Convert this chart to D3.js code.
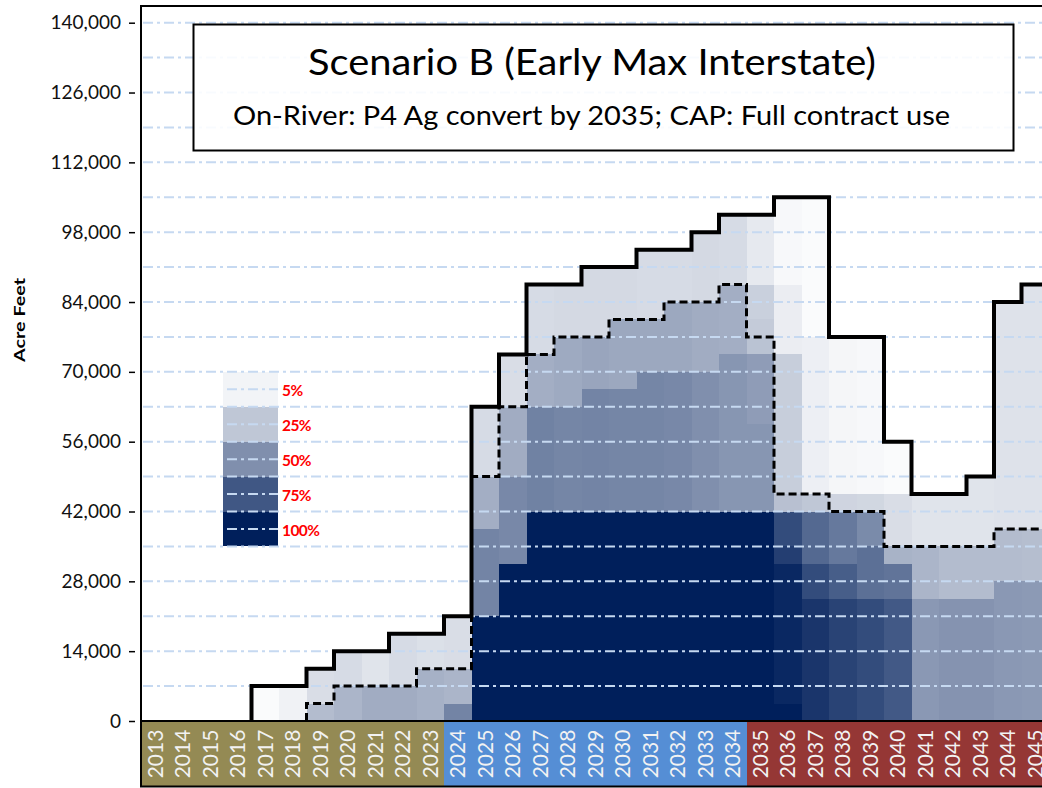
<!DOCTYPE html>
<html>
<head>
<meta charset="utf-8">
<script src="https://cdn.jsdelivr.net/npm/d3@7"></script>
<style>
  body { margin: 0; background: #fff; }
  text { font-family: Lato, "Liberation Sans", sans-serif; }
</style>
</head>
<body>
<svg width="1042" height="788"></svg>
<script>
// ---- data ----
const years = [2013, 2014, 2015, 2016, 2017, 2018, 2019, 2020, 2021, 2022, 2023,
               2024, 2025, 2026, 2027, 2028, 2029, 2030, 2031, 2032, 2033, 2034,
               2035, 2036, 2037, 2038, 2039, 2040, 2041, 2042, 2043, 2044, 2045];

// first year of each period (label band colour)
const periodStart = [2013, 2024, 2035];

// solid outline (max) and dashed line, acre feet
const maxLine = [0, 0, 0, 0, 7000, 7000, 10500, 14000, 14000, 17500, 17500,
                 21000, 63000, 73500, 87500, 87500, 91000, 91000, 94500, 94500, 98000, 101500,
                 101500, 105000, 105000, 77000, 77000, 56000, 45500, 45500, 49000, 84000, 87500];
const dashLine = [0, 0, 0, 0, 0, 0, 3500, 7000, 7000, 7000, 10500,
                  10500, 49000, 63000, 73500, 77000, 77000, 80500, 80500, 84000, 84000, 87500,
                  77000, 45500, 45500, 42000, 42000, 35000, 35000, 35000, 35000, 38500, 38500];

// shading per year: [upper bound of band, percent], bands stacked from 0
const probBands = [
  [], [], [], [],
  [[7000, 2]],
  [[7000, 6]],
  [[3500, 30], [10500, 15]],
  [[7000, 33], [14000, 16]],
  [[7000, 37], [14000, 12]],
  [[7000, 37], [17500, 16]],
  [[10500, 35], [17500, 14]],
  [[3500, 55], [10500, 33], [21000, 15]],
  [[21000, 100], [38500, 55], [49000, 36], [63000, 16]],
  [[31500, 100], [49000, 53], [63000, 37], [73500, 15]],
  [[42000, 100], [63000, 56], [73500, 36], [87500, 16]],
  [[42000, 100], [63000, 54], [77000, 38], [87500, 17]],
  [[42000, 100], [66500, 55], [77000, 40], [91000, 17]],
  [[42000, 100], [66500, 54], [80500, 39], [91000, 17]],
  [[42000, 100], [70000, 54], [80500, 39], [94500, 16]],
  [[42000, 100], [70000, 53], [84000, 39], [94500, 16]],
  [[42000, 100], [70000, 50], [84000, 37], [98000, 17]],
  [[42000, 100], [73500, 47], [87500, 36], [101500, 16]],
  [[42000, 100], [59500, 47], [73500, 44], [77000, 27], [80500, 23], [87500, 21], [101500, 10]],
  [[3500, 100], [31500, 96], [35000, 86], [42000, 80], [45500, 28], [73500, 22], [87500, 8], [105000, 3]],
  [[24500, 90], [31500, 80], [42000, 67], [45500, 25], [77000, 7], [105000, 2]],
  [[24500, 84], [31500, 72], [42000, 60], [45500, 19], [77000, 4]],
  [[24500, 80], [35000, 64], [42000, 52], [45500, 18], [77000, 3]],
  [[24500, 74], [31500, 62], [35000, 34], [45500, 15], [56000, 2]],
  [[24500, 46], [35000, 33], [45500, 12]],
  [[24500, 48], [35000, 30], [45500, 12]],
  [[24500, 48], [35000, 30], [49000, 12]],
  [[28000, 46], [38500, 30], [84000, 13]],
  [[28000, 45], [38500, 29], [87500, 13]]
];

const yTicks = [0, 14000, 28000, 42000, 56000, 70000, 84000, 98000, 112000, 126000, 140000];
const legendLevels = [5, 25, 50, 75, 100];
const legendLabels = ["5%", "25%", "50%", "75%", "100%"];

const titleText = "Scenario B (Early Max Interstate)";
const subtitleText = "On-River: P4 Ag convert by 2035; CAP: Full contract use";

// ---- drawing ----
const svg = d3.select("svg");

const x = d3.scaleBand().domain(years).range([141.5, 1049]);
const y = d3.scaleLinear().domain([0, 140000]).range([721, 22.7]);
const shade = p => d3.interpolateRgb("#ffffff", "#001f5b")(p / 100);
const periodColor = d3.scaleThreshold().domain(periodStart.slice(1)).range(["#948a54", "#558ed5", "#953735"]);

// cells
const cells = [];
years.forEach((yr, i) => {
  let lo = 0;
  probBands[i].forEach(([hi, p]) => { cells.push({ yr, lo, hi, p }); lo = hi; });
});

svg.append("g")
  .attr("shape-rendering", "crispEdges")
  .selectAll("rect")
  .data(cells)
  .join("rect")
  .attr("x", d => x(d.yr))
  .attr("width", x.bandwidth())
  .attr("y", d => y(d.hi))
  .attr("height", d => y(d.lo) - y(d.hi))
  .attr("fill", d => shade(d.p));

// legend blocks (each one 7000 tall on the y scale, from 70,000 down)
const legTop = 70000, legStep = 7000;
const leg = svg.append("g");
leg.selectAll("rect")
  .data(legendLevels)
  .join("rect")
  .attr("shape-rendering", "crispEdges")
  .attr("x", 223)
  .attr("width", 55)
  .attr("y", (d, i) => y(legTop - i * legStep))
  .attr("height", y(0) - y(legStep))
  .attr("fill", d => shade(d));

// gridlines
const grid = svg.append("g")
  .attr("stroke", "#c6d9f1")
  .attr("stroke-width", 2)
  .attr("stroke-dasharray", "10,4,3,4");
grid.selectAll("line.g")
  .data(d3.range(7000, 140001, 7000))
  .join("line")
  .attr("class", "g")
  .attr("x1", 143).attr("x2", 1042)
  .attr("y1", d => y(d)).attr("y2", d => y(d));
grid.selectAll("line.l")
  .data(legendLevels)
  .join("line")
  .attr("class", "l")
  .attr("x1", 227).attr("x2", 278)
  .attr("y1", (d, i) => y(legTop - i * legStep - legStep / 2))
  .attr("y2", (d, i) => y(legTop - i * legStep - legStep / 2));

leg.selectAll("text")
  .data(legendLabels)
  .join("text")
  .attr("x", 282)
  .attr("y", (d, i) => y(legTop - i * legStep - legStep / 2) + 7)
  .attr("fill", "#ff0000")
  .attr("font-weight", "bold")
  .attr("font-size", 15.5)
  .attr("letter-spacing", -0.6)
  .text(d => d);

// step lines
function stepPoints(vals) {
  const first = vals.findIndex(v => v > 0);
  const pts = [[x(years[first]), y(0)]];
  for (let i = first; i < years.length; i++) {
    pts.push([x(years[i]), y(vals[i])], [x(years[i]) + x.bandwidth(), y(vals[i])]);
  }
  return pts;
}

svg.append("path")
  .attr("d", d3.line()(stepPoints(dashLine)))
  .attr("fill", "none")
  .attr("stroke", "#000")
  .attr("stroke-width", 3)
  .attr("stroke-dasharray", "8,4");

svg.append("path")
  .attr("d", d3.line()(stepPoints(maxLine)))
  .attr("fill", "none")
  .attr("stroke", "#000")
  .attr("stroke-width", 4);

// plot frame
svg.append("path")
  .attr("d", "M1050,6 H141 V721 H1050")
  .attr("fill", "none")
  .attr("stroke", "#000")
  .attr("stroke-width", 2);

// year label band
const band = svg.append("g");
band.selectAll("rect")
  .data(years)
  .join("rect")
  .attr("shape-rendering", "crispEdges")
  .attr("x", d => x(d))
  .attr("width", x.bandwidth() + 0.5)
  .attr("y", 722)
  .attr("height", 64)
  .attr("fill", d => periodColor(d));
band.selectAll("text")
  .data(years)
  .join("text")
  .attr("transform", d => `translate(${x(d) + x.bandwidth() / 2},754) rotate(-90)`)
  .attr("text-anchor", "middle")
  .attr("dy", "0.36em")
  .attr("font-size", 21)
  .attr("fill", "#f2f2f2")
  .text(d => d);
svg.append("path")
  .attr("d", "M1050,721 H141 V786.5 H1050")
  .attr("fill", "none")
  .attr("stroke", "#000")
  .attr("stroke-width", 2);

// y axis
const yAxis = d3.axisLeft(y)
  .tickValues(yTicks)
  .tickFormat(d3.format(","))
  .tickSize(6)
  .tickPadding(8);
svg.append("g")
  .attr("transform", "translate(135,0)")
  .call(yAxis)
  .call(g => g.select(".domain").remove())
  .call(g => g.selectAll(".tick line").attr("stroke", "#000").attr("stroke-width", 1.5))
  .call(g => g.selectAll(".tick text")
    .attr("font-family", "Lato, 'Liberation Sans', sans-serif")
    .attr("font-size", 19)
    .attr("fill", "#111"));

svg.append("text")
  .attr("transform", "translate(25,320) rotate(-90)")
  .attr("text-anchor", "middle")
  .attr("font-weight", "bold")
  .attr("font-size", 16)
  .attr("textLength", 84)
  .attr("lengthAdjust", "spacingAndGlyphs")
  .text("Acre Feet");

// title box
svg.append("rect")
  .attr("x", 193.5).attr("y", 24.5)
  .attr("width", 820).attr("height", 126)
  .attr("fill", "#fff")
  .attr("fill-opacity", 0.88)
  .attr("stroke", "#000")
  .attr("stroke-width", 2);
svg.append("text")
  .attr("x", 308).attr("y", 75)
  .attr("font-size", 36)
  .attr("textLength", 568)
  .attr("lengthAdjust", "spacingAndGlyphs")
  .text(titleText);
svg.append("text")
  .attr("x", 233).attr("y", 125)
  .attr("font-size", 26.5)
  .attr("textLength", 717)
  .attr("lengthAdjust", "spacingAndGlyphs")
  .text(subtitleText);
</script>
</body>
</html>
